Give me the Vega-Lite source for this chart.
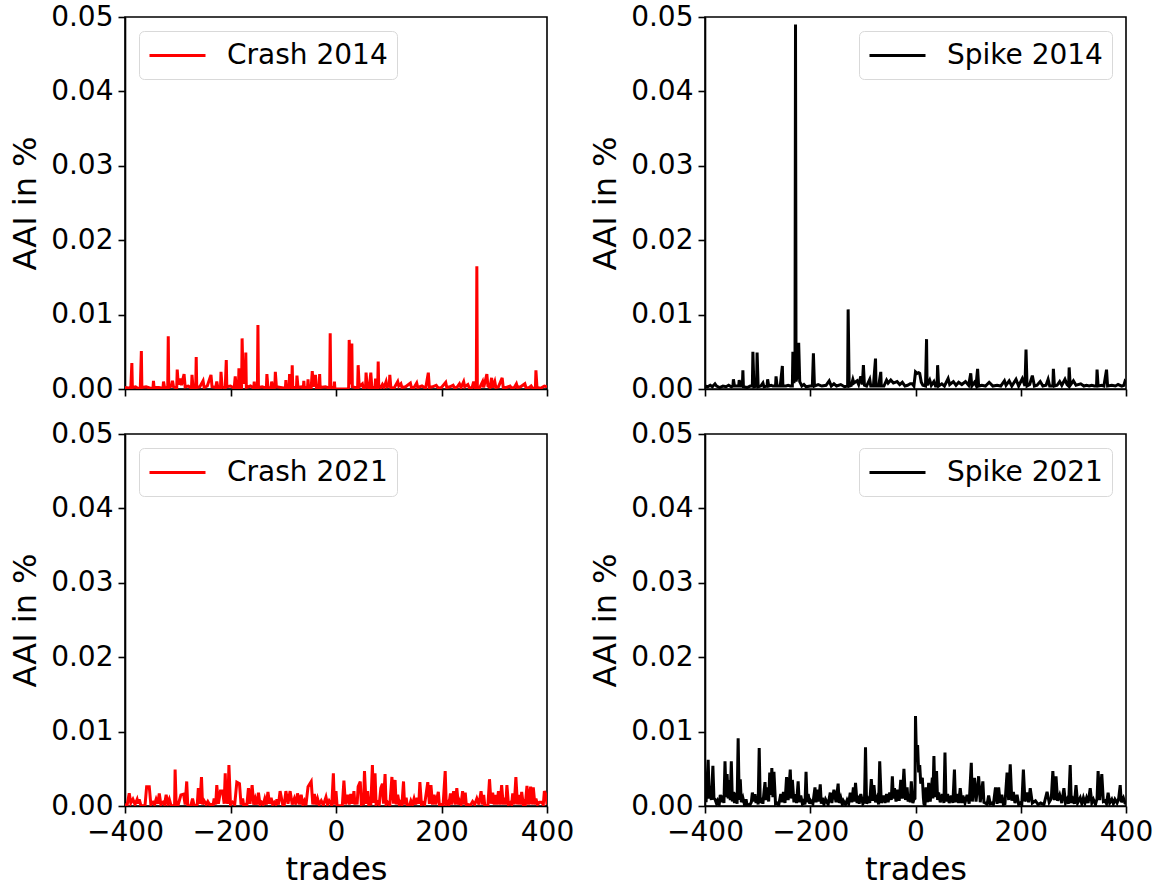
{
  "$schema": "https://vega.github.io/schema/vega-lite/v6.json",
  "background": "white",
  "padding": {"left": 8, "top": 2, "right": 0, "bottom": 0},
  "config": {
    "font": "DejaVu Sans",
    "view": {"stroke": "black", "strokeWidth": 1.6},
    "axis": {
      "grid": false,
      "labelFontSize": 28,
      "titleFontSize": 32,
      "titleFontWeight": "normal",
      "labelColor": "black",
      "titleColor": "black",
      "domainColor": "black",
      "domainWidth": 1.6,
      "tickColor": "black",
      "tickWidth": 1.6,
      "tickSize": 7,
      "labelPadding": 5,
      "titlePadding": 8,
      "labelOverlap": false,
      "labelFlush": false,
      "labelFont": "DejaVu Sans",
      "titleFont": "DejaVu Sans"
    },
    "legend": {
      "title": null,
      "offset": 14,
      "padding": 9,
      "strokeColor": "#d9d9d9",
      "cornerRadius": 5,
      "fillColor": "white",
      "labelFontSize": 28,
      "labelFont": "DejaVu Sans",
      "labelColor": "black",
      "labelLimit": 0,
      "symbolType": "M-1,0L3,0",
      "symbolSize": 784,
      "symbolStrokeWidth": 3,
      "labelOffset": 48
    }
  },
  "datasets": {
    "crash2014": [
      {"t":-400,"v":0.0002},{"t":-389,"v":0.0001},{"t":-387,"v":0.0035},{"t":-386,"v":0.0002},{"t":-380,"v":0.0003},{"t":-376,"v":0.0001},{"t":-371,"v":0.0001},{"t":-369,"v":0.0051},{"t":-368,"v":0.0002},{"t":-360,"v":0.0003},{"t":-352,"v":0.0001},{"t":-347,"v":0.0001},{"t":-346,"v":0.0011},{"t":-345,"v":0.0002},{"t":-336,"v":0.0002},{"t":-328,"v":0.0001},{"t":-327,"v":0.0010},{"t":-325,"v":0.0002},{"t":-319,"v":0.0001},{"t":-318,"v":0.0071},{"t":-317,"v":0.0002},{"t":-312,"v":0.0004},{"t":-310,"v":0.0011},{"t":-308,"v":0.0003},{"t":-302,"v":0.0001},{"t":-301,"v":0.0026},{"t":-299,"v":0.0006},{"t":-295,"v":0.0014},{"t":-293,"v":0.0005},{"t":-288,"v":0.0020},{"t":-286,"v":0.0003},{"t":-280,"v":0.0004},{"t":-274,"v":0.0001},{"t":-273,"v":0.0019},{"t":-271,"v":0.0002},{"t":-266,"v":0.0001},{"t":-265,"v":0.0043},{"t":-264,"v":0.0002},{"t":-258,"v":0.0003},{"t":-252,"v":0.0011},{"t":-250,"v":0.0002},{"t":-244,"v":0.0004},{"t":-237,"v":0.0019},{"t":-235,"v":0.0003},{"t":-228,"v":0.0002},{"t":-226,"v":0.0010},{"t":-224,"v":0.0002},{"t":-219,"v":0.0001},{"t":-218,"v":0.0023},{"t":-216,"v":0.0003},{"t":-210,"v":0.0001},{"t":-208,"v":0.0039},{"t":-207,"v":0.0003},{"t":-200,"v":0.0004},{"t":-193,"v":0.0001},{"t":-191,"v":0.0017},{"t":-189,"v":0.0002},{"t":-185,"v":0.0001},{"t":-184,"v":0.0028},{"t":-183,"v":0.0002},{"t":-179,"v":0.0001},{"t":-178,"v":0.0068},{"t":-176,"v":0.0009},{"t":-172,"v":0.0010},{"t":-171,"v":0.0049},{"t":-170,"v":0.0002},{"t":-162,"v":0.0004},{"t":-156,"v":0.0001},{"t":-155,"v":0.0010},{"t":-154,"v":0.0001},{"t":-149,"v":0.0001},{"t":-148,"v":0.0086},{"t":-147,"v":0.0002},{"t":-140,"v":0.0003},{"t":-132,"v":0.0001},{"t":-131,"v":0.0020},{"t":-129,"v":0.0002},{"t":-123,"v":0.0001},{"t":-122,"v":0.0010},{"t":-120,"v":0.0001},{"t":-116,"v":0.0002},{"t":-115,"v":0.0023},{"t":-113,"v":0.0003},{"t":-105,"v":0.0002},{"t":-96,"v":0.0001},{"t":-95,"v":0.0012},{"t":-94,"v":0.0002},{"t":-89,"v":0.0002},{"t":-88,"v":0.0020},{"t":-86,"v":0.0003},{"t":-84,"v":0.0002},{"t":-83,"v":0.0032},{"t":-82,"v":0.0002},{"t":-75,"v":0.0002},{"t":-74,"v":0.0018},{"t":-72,"v":0.0002},{"t":-66,"v":0.0003},{"t":-62,"v":0.0001},{"t":-61,"v":0.0011},{"t":-60,"v":0.0002},{"t":-54,"v":0.0002},{"t":-53,"v":0.0013},{"t":-52,"v":0.0002},{"t":-47,"v":0.0002},{"t":-45,"v":0.0024},{"t":-43,"v":0.0003},{"t":-39,"v":0.0019},{"t":-37,"v":0.0002},{"t":-32,"v":0.0002},{"t":-31,"v":0.0020},{"t":-30,"v":0.0002},{"t":-20,"v":0.0003},{"t":-12,"v":0.0001},{"t":-11,"v":0.0075},{"t":-10,"v":0.0003},{"t":-4,"v":0.0001},{"t":-3,"v":0.0010},{"t":-2,"v":0.0},{"t":22,"v":0.0},{"t":24,"v":0.0002},{"t":25,"v":0.0066},{"t":28,"v":0.0006},{"t":30,"v":0.0061},{"t":31,"v":0.0003},{"t":36,"v":0.0002},{"t":41,"v":0.0002},{"t":42,"v":0.0032},{"t":44,"v":0.0003},{"t":50,"v":0.0007},{"t":52,"v":0.0001},{"t":56,"v":0.0002},{"t":57,"v":0.0022},{"t":59,"v":0.0003},{"t":63,"v":0.0001},{"t":66,"v":0.0022},{"t":68,"v":0.0002},{"t":74,"v":0.0002},{"t":75,"v":0.0014},{"t":77,"v":0.0002},{"t":79,"v":0.0002},{"t":80,"v":0.0037},{"t":81,"v":0.0004},{"t":85,"v":0.0002},{"t":88,"v":0.0006},{"t":91,"v":0.0002},{"t":95,"v":0.0010},{"t":97,"v":0.0003},{"t":101,"v":0.0004},{"t":102,"v":0.0019},{"t":104,"v":0.0002},{"t":110,"v":0.0001},{"t":117,"v":0.0010},{"t":119,"v":0.0004},{"t":123,"v":0.0007},{"t":125,"v":0.0002},{"t":132,"v":0.0003},{"t":141,"v":0.0008},{"t":143,"v":0.0002},{"t":148,"v":0.0002},{"t":153,"v":0.0008},{"t":155,"v":0.0002},{"t":163,"v":0.0004},{"t":170,"v":0.0001},{"t":175,"v":0.0022},{"t":177,"v":0.0002},{"t":183,"v":0.0003},{"t":190,"v":0.0005},{"t":194,"v":0.0001},{"t":200,"v":0.0002},{"t":208,"v":0.0009},{"t":210,"v":0.0002},{"t":216,"v":0.0003},{"t":222,"v":0.0005},{"t":225,"v":0.0001},{"t":230,"v":0.0003},{"t":234,"v":0.0007},{"t":237,"v":0.0002},{"t":242,"v":0.0010},{"t":244,"v":0.0003},{"t":250,"v":0.0006},{"t":253,"v":0.0001},{"t":258,"v":0.0002},{"t":261,"v":0.0010},{"t":264,"v":0.0001},{"t":266,"v":0.0002},{"t":267,"v":0.0165},{"t":268,"v":0.0002},{"t":272,"v":0.0001},{"t":278,"v":0.0010},{"t":280,"v":0.0002},{"t":286,"v":0.0020},{"t":288,"v":0.0004},{"t":292,"v":0.0002},{"t":295,"v":0.0015},{"t":297,"v":0.0002},{"t":301,"v":0.0010},{"t":303,"v":0.0002},{"t":308,"v":0.0003},{"t":315,"v":0.0015},{"t":317,"v":0.0002},{"t":323,"v":0.0002},{"t":330,"v":0.0004},{"t":333,"v":0.0001},{"t":338,"v":0.0002},{"t":342,"v":0.0007},{"t":344,"v":0.0002},{"t":350,"v":0.0003},{"t":358,"v":0.0007},{"t":360,"v":0.0002},{"t":365,"v":0.0001},{"t":370,"v":0.0004},{"t":373,"v":0.0001},{"t":378,"v":0.0001},{"t":379,"v":0.0025},{"t":381,"v":0.0002},{"t":388,"v":0.0001},{"t":395,"v":0.0004},{"t":400,"v":0.0003}
    ],
    "spike2014": [
      {"t":-400,"v":0.0004},{"t":-395,"v":0.0003},{"t":-390,"v":0.0005},{"t":-386,"v":0.0003},{"t":-381,"v":0.0007},{"t":-378,"v":0.0004},{"t":-372,"v":0.0002},{"t":-366,"v":0.0004},{"t":-360,"v":0.0003},{"t":-355,"v":0.0005},{"t":-350,"v":0.0003},{"t":-347,"v":0.0004},{"t":-346,"v":0.0013},{"t":-344,"v":0.0004},{"t":-340,"v":0.0004},{"t":-336,"v":0.0004},{"t":-335,"v":0.0012},{"t":-333,"v":0.0004},{"t":-329,"v":0.0004},{"t":-328,"v":0.0025},{"t":-327,"v":0.0003},{"t":-320,"v":0.0002},{"t":-314,"v":0.0004},{"t":-310,"v":0.0004},{"t":-309,"v":0.0050},{"t":-307,"v":0.0003},{"t":-302,"v":0.0004},{"t":-301,"v":0.0049},{"t":-299,"v":0.0003},{"t":-294,"v":0.0004},{"t":-290,"v":0.0008},{"t":-288,"v":0.0003},{"t":-282,"v":0.0004},{"t":-281,"v":0.0013},{"t":-279,"v":0.0004},{"t":-274,"v":0.0005},{"t":-271,"v":0.0004},{"t":-266,"v":0.0004},{"t":-265,"v":0.0017},{"t":-263,"v":0.0004},{"t":-257,"v":0.0004},{"t":-253,"v":0.0031},{"t":-252,"v":0.0004},{"t":-246,"v":0.0004},{"t":-242,"v":0.0005},{"t":-238,"v":0.0004},{"t":-234,"v":0.0004},{"t":-233,"v":0.0050},{"t":-231,"v":0.0008},{"t":-229,"v":0.0030},{"t":-228,"v":0.0490},{"t":-227,"v":0.0010},{"t":-224,"v":0.0020},{"t":-222,"v":0.0062},{"t":-220,"v":0.0010},{"t":-216,"v":0.0004},{"t":-212,"v":0.0006},{"t":-208,"v":0.0003},{"t":-200,"v":0.0004},{"t":-196,"v":0.0004},{"t":-194,"v":0.0048},{"t":-192,"v":0.0004},{"t":-185,"v":0.0006},{"t":-178,"v":0.0004},{"t":-170,"v":0.0005},{"t":-164,"v":0.0011},{"t":-160,"v":0.0004},{"t":-155,"v":0.0007},{"t":-150,"v":0.0004},{"t":-142,"v":0.0006},{"t":-135,"v":0.0003},{"t":-129,"v":0.0004},{"t":-128,"v":0.0107},{"t":-126,"v":0.0004},{"t":-122,"v":0.0005},{"t":-119,"v":0.0013},{"t":-117,"v":0.0008},{"t":-111,"v":0.0011},{"t":-108,"v":0.0006},{"t":-104,"v":0.0017},{"t":-101,"v":0.0006},{"t":-99,"v":0.0032},{"t":-97,"v":0.0005},{"t":-93,"v":0.0004},{"t":-87,"v":0.0013},{"t":-85,"v":0.0004},{"t":-80,"v":0.0004},{"t":-76,"v":0.0041},{"t":-75,"v":0.0004},{"t":-70,"v":0.0004},{"t":-66,"v":0.0023},{"t":-65,"v":0.0004},{"t":-60,"v":0.0004},{"t":-55,"v":0.0012},{"t":-52,"v":0.0008},{"t":-47,"v":0.0012},{"t":-42,"v":0.0008},{"t":-35,"v":0.0010},{"t":-30,"v":0.0006},{"t":-25,"v":0.0009},{"t":-20,"v":0.0004},{"t":-15,"v":0.0005},{"t":-10,"v":0.0007},{"t":-6,"v":0.0007},{"t":-3,"v":0.0004},{"t":0,"v":0.0023},{"t":3,"v":0.0021},{"t":6,"v":0.0022},{"t":8,"v":0.0021},{"t":11,"v":0.0009},{"t":14,"v":0.0005},{"t":19,"v":0.0004},{"t":21,"v":0.0067},{"t":22,"v":0.0005},{"t":27,"v":0.0012},{"t":30,"v":0.0005},{"t":35,"v":0.0010},{"t":38,"v":0.0004},{"t":41,"v":0.0004},{"t":42,"v":0.0032},{"t":44,"v":0.0004},{"t":50,"v":0.0007},{"t":55,"v":0.0004},{"t":62,"v":0.0014},{"t":65,"v":0.0006},{"t":72,"v":0.0010},{"t":77,"v":0.0005},{"t":82,"v":0.0009},{"t":88,"v":0.0006},{"t":95,"v":0.0010},{"t":101,"v":0.0005},{"t":105,"v":0.0021},{"t":107,"v":0.0004},{"t":112,"v":0.0009},{"t":115,"v":0.0005},{"t":118,"v":0.0027},{"t":120,"v":0.0004},{"t":126,"v":0.0005},{"t":133,"v":0.0004},{"t":140,"v":0.0009},{"t":147,"v":0.0004},{"t":155,"v":0.0005},{"t":162,"v":0.0004},{"t":169,"v":0.0011},{"t":172,"v":0.0005},{"t":178,"v":0.0011},{"t":183,"v":0.0004},{"t":191,"v":0.0013},{"t":196,"v":0.0004},{"t":203,"v":0.0014},{"t":208,"v":0.0004},{"t":210,"v":0.0053},{"t":212,"v":0.0004},{"t":217,"v":0.0006},{"t":222,"v":0.0018},{"t":226,"v":0.0004},{"t":231,"v":0.0005},{"t":237,"v":0.0010},{"t":242,"v":0.0004},{"t":248,"v":0.0005},{"t":252,"v":0.0013},{"t":255,"v":0.0004},{"t":261,"v":0.0004},{"t":262,"v":0.0027},{"t":264,"v":0.0004},{"t":269,"v":0.0005},{"t":274,"v":0.0010},{"t":278,"v":0.0005},{"t":284,"v":0.0013},{"t":288,"v":0.0006},{"t":291,"v":0.0004},{"t":292,"v":0.0029},{"t":294,"v":0.0005},{"t":300,"v":0.0011},{"t":305,"v":0.0005},{"t":314,"v":0.0007},{"t":320,"v":0.0004},{"t":325,"v":0.0005},{"t":330,"v":0.0004},{"t":335,"v":0.0005},{"t":340,"v":0.0004},{"t":344,"v":0.0004},{"t":345,"v":0.0026},{"t":347,"v":0.0004},{"t":354,"v":0.0005},{"t":358,"v":0.0004},{"t":363,"v":0.0026},{"t":365,"v":0.0004},{"t":373,"v":0.0005},{"t":380,"v":0.0004},{"t":385,"v":0.0006},{"t":392,"v":0.0004},{"t":396,"v":0.0005},{"t":398,"v":0.0010},{"t":400,"v":0.0008}
    ],
    "crash2021": [
      {"t":-400,"v":0.0002},{"t":-396,"v":0.0001},{"t":-392,"v":0.0017},{"t":-389,"v":0.0004},{"t":-385,"v":0.0009},{"t":-381,"v":0.0002},{"t":-377,"v":0.0009},{"t":-375,"v":0.0003},{"t":-373,"v":0.0009},{"t":-370,"v":0.0001},{"t":-366,"v":0.0},{"t":-362,"v":0.0001},{"t":-359,"v":0.0026},{"t":-354,"v":0.0026},{"t":-351,"v":0.0002},{"t":-347,"v":0.0005},{"t":-344,"v":0.0002},{"t":-341,"v":0.0009},{"t":-338,"v":0.0003},{"t":-335,"v":0.0017},{"t":-332,"v":0.0002},{"t":-328,"v":0.0005},{"t":-325,"v":0.0002},{"t":-322,"v":0.0015},{"t":-319,"v":0.0003},{"t":-316,"v":0.0009},{"t":-313,"v":0.0001},{"t":-311,"v":0.0},{"t":-306,"v":0.0001},{"t":-305,"v":0.0049},{"t":-303,"v":0.0002},{"t":-299,"v":0.0002},{"t":-294,"v":0.0015},{"t":-289,"v":0.0016},{"t":-286,"v":0.0002},{"t":-283,"v":0.0033},{"t":-281,"v":0.0001},{"t":-278,"v":0.0},{"t":-275,"v":0.0001},{"t":-272,"v":0.0010},{"t":-269,"v":0.0001},{"t":-267,"v":0.0},{"t":-263,"v":0.0002},{"t":-261,"v":0.0024},{"t":-258,"v":0.0003},{"t":-255,"v":0.0039},{"t":-253,"v":0.0002},{"t":-250,"v":0.0007},{"t":-246,"v":0.0002},{"t":-243,"v":0.0006},{"t":-239,"v":0.0001},{"t":-237,"v":0.0002},{"t":-233,"v":0.0001},{"t":-231,"v":0.0010},{"t":-228,"v":0.0002},{"t":-226,"v":0.0028},{"t":-223,"v":0.0003},{"t":-219,"v":0.0020},{"t":-215,"v":0.0020},{"t":-212,"v":0.0003},{"t":-210,"v":0.0044},{"t":-208,"v":0.0003},{"t":-207,"v":0.0020},{"t":-205,"v":0.0003},{"t":-203,"v":0.0055},{"t":-200,"v":0.0002},{"t":-196,"v":0.0005},{"t":-192,"v":0.0002},{"t":-188,"v":0.0032},{"t":-183,"v":0.0030},{"t":-180,"v":0.0002},{"t":-177,"v":0.0010},{"t":-175,"v":0.0001},{"t":-172,"v":0.0002},{"t":-169,"v":0.0001},{"t":-166,"v":0.0024},{"t":-163,"v":0.0003},{"t":-159,"v":0.0028},{"t":-156,"v":0.0002},{"t":-153,"v":0.0010},{"t":-150,"v":0.0002},{"t":-147,"v":0.0018},{"t":-144,"v":0.0002},{"t":-141,"v":0.0005},{"t":-138,"v":0.0002},{"t":-135,"v":0.0010},{"t":-132,"v":0.0002},{"t":-129,"v":0.0019},{"t":-126,"v":0.0003},{"t":-123,"v":0.0011},{"t":-120,"v":0.0002},{"t":-117,"v":0.0005},{"t":-114,"v":0.0002},{"t":-112,"v":0.0009},{"t":-109,"v":0.0002},{"t":-106,"v":0.0020},{"t":-101,"v":0.0002},{"t":-98,"v":0.0002},{"t":-95,"v":0.0020},{"t":-91,"v":0.0003},{"t":-87,"v":0.0020},{"t":-83,"v":0.0002},{"t":-79,"v":0.0010},{"t":-76,"v":0.0002},{"t":-73,"v":0.0017},{"t":-69,"v":0.0002},{"t":-66,"v":0.0015},{"t":-63,"v":0.0002},{"t":-60,"v":0.0007},{"t":-57,"v":0.0001},{"t":-53,"v":0.0026},{"t":-47,"v":0.0033},{"t":-44,"v":0.0002},{"t":-41,"v":0.0016},{"t":-38,"v":0.0002},{"t":-35,"v":0.0010},{"t":-32,"v":0.0002},{"t":-28,"v":0.0007},{"t":-24,"v":0.0001},{"t":-19,"v":0.0012},{"t":-16,"v":0.0002},{"t":-13,"v":0.0007},{"t":-8,"v":0.0001},{"t":-5,"v":0.0044},{"t":-3,"v":0.0002},{"t":0,"v":0.0020},{"t":2,"v":0.0001},{"t":6,"v":0.0},{"t":12,"v":0.0001},{"t":15,"v":0.0034},{"t":18,"v":0.0002},{"t":22,"v":0.0015},{"t":25,"v":0.0002},{"t":28,"v":0.0016},{"t":31,"v":0.0003},{"t":34,"v":0.0020},{"t":36,"v":0.0002},{"t":38,"v":0.0010},{"t":40,"v":0.0002},{"t":42,"v":0.0026},{"t":46,"v":0.0033},{"t":48,"v":0.0002},{"t":51,"v":0.0005},{"t":52,"v":0.0001},{"t":54,"v":0.0047},{"t":57,"v":0.0003},{"t":60,"v":0.0020},{"t":62,"v":0.0002},{"t":64,"v":0.0005},{"t":66,"v":0.0001},{"t":69,"v":0.0055},{"t":71,"v":0.0004},{"t":74,"v":0.0044},{"t":76,"v":0.0002},{"t":79,"v":0.0005},{"t":82,"v":0.0002},{"t":85,"v":0.0024},{"t":88,"v":0.0030},{"t":90,"v":0.0003},{"t":93,"v":0.0043},{"t":95,"v":0.0002},{"t":98,"v":0.0005},{"t":102,"v":0.0001},{"t":106,"v":0.0039},{"t":109,"v":0.0003},{"t":112,"v":0.0035},{"t":114,"v":0.0002},{"t":117,"v":0.0015},{"t":120,"v":0.0002},{"t":122,"v":0.0005},{"t":125,"v":0.0002},{"t":128,"v":0.0033},{"t":130,"v":0.0002},{"t":133,"v":0.0011},{"t":135,"v":0.0001},{"t":137,"v":0.0},{"t":140,"v":0.0002},{"t":142,"v":0.0007},{"t":145,"v":0.0002},{"t":148,"v":0.0010},{"t":151,"v":0.0002},{"t":154,"v":0.0011},{"t":157,"v":0.0003},{"t":159,"v":0.0032},{"t":162,"v":0.0002},{"t":164,"v":0.0005},{"t":168,"v":0.0002},{"t":174,"v":0.0032},{"t":177,"v":0.0003},{"t":180,"v":0.0028},{"t":183,"v":0.0002},{"t":186,"v":0.0015},{"t":189,"v":0.0002},{"t":194,"v":0.0019},{"t":196,"v":0.0002},{"t":199,"v":0.0002},{"t":203,"v":0.0001},{"t":207,"v":0.0047},{"t":209,"v":0.0002},{"t":212,"v":0.0005},{"t":214,"v":0.0002},{"t":217,"v":0.0017},{"t":219,"v":0.0002},{"t":223,"v":0.0020},{"t":226,"v":0.0002},{"t":229,"v":0.0024},{"t":232,"v":0.0002},{"t":234,"v":0.0007},{"t":237,"v":0.0002},{"t":240,"v":0.0020},{"t":242,"v":0.0002},{"t":245,"v":0.0018},{"t":247,"v":0.0002},{"t":250,"v":0.0002},{"t":255,"v":0.0001},{"t":259,"v":0.0006},{"t":263,"v":0.0002},{"t":267,"v":0.0010},{"t":271,"v":0.0002},{"t":275,"v":0.0020},{"t":278,"v":0.0002},{"t":280,"v":0.0015},{"t":282,"v":0.0001},{"t":284,"v":0.0},{"t":288,"v":0.0001},{"t":291,"v":0.0036},{"t":294,"v":0.0003},{"t":297,"v":0.0018},{"t":300,"v":0.0002},{"t":303,"v":0.0015},{"t":305,"v":0.0002},{"t":308,"v":0.0020},{"t":311,"v":0.0002},{"t":314,"v":0.0028},{"t":317,"v":0.0002},{"t":319,"v":0.0011},{"t":322,"v":0.0002},{"t":324,"v":0.0028},{"t":327,"v":0.0002},{"t":331,"v":0.0005},{"t":333,"v":0.0002},{"t":335,"v":0.0017},{"t":338,"v":0.0002},{"t":341,"v":0.0039},{"t":344,"v":0.0002},{"t":348,"v":0.0015},{"t":350,"v":0.0002},{"t":352,"v":0.0019},{"t":355,"v":0.0002},{"t":357,"v":0.0005},{"t":359,"v":0.0002},{"t":362,"v":0.0027},{"t":365,"v":0.0002},{"t":369,"v":0.0026},{"t":371,"v":0.0002},{"t":374,"v":0.0025},{"t":377,"v":0.0002},{"t":379,"v":0.0010},{"t":382,"v":0.0002},{"t":386,"v":0.0005},{"t":390,"v":0.0005},{"t":393,"v":0.0002},{"t":395,"v":0.0020},{"t":398,"v":0.0015},{"t":400,"v":0.0002}
    ],
    "spike2021": [
      {"t":-400,"v":0.0028},{"t":-398,"v":0.0005},{"t":-394,"v":0.0062},{"t":-392,"v":0.0010},{"t":-390,"v":0.0027},{"t":-388,"v":0.0008},{"t":-385,"v":0.0054},{"t":-383,"v":0.0010},{"t":-381,"v":0.0009},{"t":-378,"v":0.0003},{"t":-376,"v":0.0007},{"t":-373,"v":0.0002},{"t":-371,"v":0.0015},{"t":-368,"v":0.0005},{"t":-366,"v":0.0014},{"t":-364,"v":0.0004},{"t":-362,"v":0.0060},{"t":-360,"v":0.0012},{"t":-358,"v":0.0043},{"t":-356,"v":0.0010},{"t":-354,"v":0.0035},{"t":-352,"v":0.0008},{"t":-350,"v":0.0060},{"t":-348,"v":0.0006},{"t":-346,"v":0.0019},{"t":-344,"v":0.0004},{"t":-341,"v":0.0018},{"t":-339,"v":0.0003},{"t":-337,"v":0.0091},{"t":-335,"v":0.0008},{"t":-333,"v":0.0036},{"t":-331,"v":0.0005},{"t":-328,"v":0.0011},{"t":-325,"v":0.0002},{"t":-322,"v":0.0009},{"t":-320,"v":0.0001},{"t":-318,"v":0.0002},{"t":-315,"v":0.0001},{"t":-312,"v":0.0005},{"t":-310,"v":0.0018},{"t":-307,"v":0.0006},{"t":-305,"v":0.0016},{"t":-303,"v":0.0004},{"t":-301,"v":0.0011},{"t":-299,"v":0.0002},{"t":-297,"v":0.0078},{"t":-295,"v":0.0004},{"t":-292,"v":0.0011},{"t":-290,"v":0.0003},{"t":-286,"v":0.0032},{"t":-284,"v":0.0008},{"t":-281,"v":0.0025},{"t":-279,"v":0.0006},{"t":-277,"v":0.0045},{"t":-275,"v":0.0015},{"t":-273,"v":0.0051},{"t":-271,"v":0.0012},{"t":-269,"v":0.0046},{"t":-266,"v":0.0003},{"t":-263,"v":0.0004},{"t":-260,"v":0.0001},{"t":-256,"v":0.0016},{"t":-253,"v":0.0005},{"t":-251,"v":0.0019},{"t":-248,"v":0.0004},{"t":-245,"v":0.0039},{"t":-242,"v":0.0008},{"t":-238,"v":0.0049},{"t":-236,"v":0.0010},{"t":-234,"v":0.0035},{"t":-231,"v":0.0005},{"t":-229,"v":0.0016},{"t":-226,"v":0.0004},{"t":-223,"v":0.0033},{"t":-221,"v":0.0005},{"t":-218,"v":0.0014},{"t":-215,"v":0.0003},{"t":-212,"v":0.0007},{"t":-210,"v":0.0002},{"t":-208,"v":0.0046},{"t":-206,"v":0.0005},{"t":-204,"v":0.0016},{"t":-201,"v":0.0003},{"t":-199,"v":0.0007},{"t":-195,"v":0.0003},{"t":-191,"v":0.0025},{"t":-189,"v":0.0005},{"t":-186,"v":0.0022},{"t":-184,"v":0.0006},{"t":-181,"v":0.0029},{"t":-179,"v":0.0003},{"t":-177,"v":0.0011},{"t":-174,"v":0.0002},{"t":-171,"v":0.0009},{"t":-166,"v":0.0002},{"t":-162,"v":0.0018},{"t":-159,"v":0.0004},{"t":-155,"v":0.0022},{"t":-151,"v":0.0005},{"t":-147,"v":0.0030},{"t":-145,"v":0.0004},{"t":-142,"v":0.0011},{"t":-139,"v":0.0002},{"t":-137,"v":0.0007},{"t":-133,"v":0.0002},{"t":-130,"v":0.0008},{"t":-127,"v":0.0003},{"t":-124,"v":0.0018},{"t":-121,"v":0.0005},{"t":-118,"v":0.0025},{"t":-116,"v":0.0006},{"t":-114,"v":0.0031},{"t":-111,"v":0.0004},{"t":-109,"v":0.0014},{"t":-107,"v":0.0003},{"t":-104,"v":0.0016},{"t":-100,"v":0.0003},{"t":-97,"v":0.0006},{"t":-95,"v":0.0079},{"t":-93,"v":0.0003},{"t":-90,"v":0.0009},{"t":-87,"v":0.0004},{"t":-84,"v":0.0036},{"t":-81,"v":0.0007},{"t":-79,"v":0.0028},{"t":-76,"v":0.0005},{"t":-73,"v":0.0011},{"t":-70,"v":0.0002},{"t":-68,"v":0.0060},{"t":-65,"v":0.0004},{"t":-61,"v":0.0014},{"t":-58,"v":0.0004},{"t":-55,"v":0.0016},{"t":-52,"v":0.0005},{"t":-49,"v":0.0018},{"t":-46,"v":0.0008},{"t":-44,"v":0.0040},{"t":-42,"v":0.0010},{"t":-40,"v":0.0024},{"t":-37,"v":0.0006},{"t":-34,"v":0.0022},{"t":-31,"v":0.0007},{"t":-28,"v":0.0035},{"t":-25,"v":0.0010},{"t":-22,"v":0.0050},{"t":-19,"v":0.0008},{"t":-16,"v":0.0025},{"t":-14,"v":0.0006},{"t":-13,"v":0.0014},{"t":-10,"v":0.0005},{"t":-8,"v":0.0033},{"t":-5,"v":0.0004},{"t":-3,"v":0.0009},{"t":-1,"v":0.0010},{"t":0,"v":0.0121},{"t":2,"v":0.0060},{"t":4,"v":0.0082},{"t":6,"v":0.0045},{"t":8,"v":0.0055},{"t":10,"v":0.0030},{"t":13,"v":0.0038},{"t":15,"v":0.0011},{"t":16,"v":0.0003},{"t":18,"v":0.0001},{"t":20,"v":0.0025},{"t":23,"v":0.0005},{"t":25,"v":0.0031},{"t":28,"v":0.0006},{"t":32,"v":0.0038},{"t":33,"v":0.0010},{"t":35,"v":0.0067},{"t":37,"v":0.0012},{"t":40,"v":0.0047},{"t":42,"v":0.0008},{"t":44,"v":0.0018},{"t":47,"v":0.0005},{"t":51,"v":0.0016},{"t":54,"v":0.0004},{"t":56,"v":0.0072},{"t":58,"v":0.0006},{"t":61,"v":0.0016},{"t":64,"v":0.0004},{"t":68,"v":0.0014},{"t":71,"v":0.0004},{"t":74,"v":0.0049},{"t":76,"v":0.0005},{"t":79,"v":0.0016},{"t":82,"v":0.0004},{"t":85,"v":0.0024},{"t":88,"v":0.0004},{"t":90,"v":0.0014},{"t":94,"v":0.0004},{"t":98,"v":0.0015},{"t":102,"v":0.0003},{"t":106,"v":0.0058},{"t":108,"v":0.0006},{"t":112,"v":0.0038},{"t":115,"v":0.0006},{"t":120,"v":0.0040},{"t":123,"v":0.0005},{"t":128,"v":0.0033},{"t":130,"v":0.0005},{"t":133,"v":0.0004},{"t":136,"v":0.0002},{"t":139,"v":0.0014},{"t":142,"v":0.0003},{"t":145,"v":0.0004},{"t":148,"v":0.0002},{"t":152,"v":0.0025},{"t":155,"v":0.0003},{"t":158,"v":0.0025},{"t":161,"v":0.0004},{"t":164,"v":0.0015},{"t":167,"v":0.0002},{"t":170,"v":0.0003},{"t":174,"v":0.0045},{"t":177,"v":0.0008},{"t":180,"v":0.0056},{"t":183,"v":0.0007},{"t":186,"v":0.0019},{"t":189,"v":0.0004},{"t":193,"v":0.0015},{"t":196,"v":0.0002},{"t":199,"v":0.0004},{"t":202,"v":0.0002},{"t":205,"v":0.0049},{"t":208,"v":0.0006},{"t":212,"v":0.0018},{"t":215,"v":0.0005},{"t":218,"v":0.0024},{"t":222,"v":0.0004},{"t":228,"v":0.0007},{"t":233,"v":0.0002},{"t":238,"v":0.0004},{"t":244,"v":0.0002},{"t":250,"v":0.0019},{"t":254,"v":0.0005},{"t":258,"v":0.0010},{"t":261,"v":0.0047},{"t":264,"v":0.0008},{"t":267,"v":0.0040},{"t":270,"v":0.0007},{"t":274,"v":0.0015},{"t":278,"v":0.0004},{"t":282,"v":0.0024},{"t":285,"v":0.0004},{"t":288,"v":0.0009},{"t":291,"v":0.0003},{"t":294,"v":0.0055},{"t":296,"v":0.0004},{"t":299,"v":0.0009},{"t":302,"v":0.0003},{"t":305,"v":0.0028},{"t":308,"v":0.0004},{"t":313,"v":0.0011},{"t":316,"v":0.0003},{"t":319,"v":0.0011},{"t":322,"v":0.0004},{"t":325,"v":0.0011},{"t":328,"v":0.0004},{"t":332,"v":0.0024},{"t":335,"v":0.0004},{"t":338,"v":0.0009},{"t":342,"v":0.0002},{"t":345,"v":0.0010},{"t":347,"v":0.0047},{"t":350,"v":0.0008},{"t":354,"v":0.0043},{"t":357,"v":0.0006},{"t":360,"v":0.0007},{"t":363,"v":0.0003},{"t":366,"v":0.0018},{"t":369,"v":0.0004},{"t":373,"v":0.0009},{"t":376,"v":0.0003},{"t":379,"v":0.0009},{"t":383,"v":0.0004},{"t":386,"v":0.0010},{"t":389,"v":0.0028},{"t":391,"v":0.0005},{"t":395,"v":0.0011},{"t":398,"v":0.0004},{"t":400,"v":0.0003}
    ]
  },
  "columns": 2,
  "spacing": {"row": 45, "column": 158},
  "bounds": "flush",
  "resolve": {"scale": {"color": "independent"}},
  "concat": [
    {
      "width": 422, "height": 372,
      "data": {"name": "crash2014"},
      "mark": {"type": "line", "strokeWidth": 3, "clip": true},
      "encoding": {
        "x": {"field": "t", "type": "quantitative", "scale": {"domain": [-400, 400], "nice": false, "zero": false}, "axis": {"values": [-400, -200, 0, 200, 400], "labels": false, "title": null}},
        "y": {"field": "v", "type": "quantitative", "scale": {"domain": [0, 0.05], "nice": false}, "axis": {"values": [0, 0.01, 0.02, 0.03, 0.04, 0.05], "format": ".2f", "title": "AAI in %"}},
        "color": {"datum": "Crash 2014", "type": "nominal", "scale": {"domain": ["Crash 2014"], "range": ["#ff0000"]}, "legend": {"orient": "top-left"}}
      }
    },
    {
      "width": 421, "height": 372,
      "data": {"name": "spike2014"},
      "mark": {"type": "line", "strokeWidth": 3, "clip": true},
      "encoding": {
        "x": {"field": "t", "type": "quantitative", "scale": {"domain": [-400, 400], "nice": false, "zero": false}, "axis": {"values": [-400, -200, 0, 200, 400], "labels": false, "title": null}},
        "y": {"field": "v", "type": "quantitative", "scale": {"domain": [0, 0.05], "nice": false}, "axis": {"values": [0, 0.01, 0.02, 0.03, 0.04, 0.05], "format": ".2f", "title": "AAI in %"}},
        "color": {"datum": "Spike 2014", "type": "nominal", "scale": {"domain": ["Spike 2014"], "range": ["#000000"]}, "legend": {"orient": "top-right"}}
      }
    },
    {
      "width": 422, "height": 372,
      "data": {"name": "crash2021"},
      "mark": {"type": "line", "strokeWidth": 3, "clip": true},
      "encoding": {
        "x": {"field": "t", "type": "quantitative", "scale": {"domain": [-400, 400], "nice": false, "zero": false}, "axis": {"values": [-400, -200, 0, 200, 400], "title": "trades"}},
        "y": {"field": "v", "type": "quantitative", "scale": {"domain": [0, 0.05], "nice": false}, "axis": {"values": [0, 0.01, 0.02, 0.03, 0.04, 0.05], "format": ".2f", "title": "AAI in %"}},
        "color": {"datum": "Crash 2021", "type": "nominal", "scale": {"domain": ["Crash 2021"], "range": ["#ff0000"]}, "legend": {"orient": "top-left"}}
      }
    },
    {
      "width": 421, "height": 372,
      "data": {"name": "spike2021"},
      "mark": {"type": "line", "strokeWidth": 3, "clip": true},
      "encoding": {
        "x": {"field": "t", "type": "quantitative", "scale": {"domain": [-400, 400], "nice": false, "zero": false}, "axis": {"values": [-400, -200, 0, 200, 400], "title": "trades"}},
        "y": {"field": "v", "type": "quantitative", "scale": {"domain": [0, 0.05], "nice": false}, "axis": {"values": [0, 0.01, 0.02, 0.03, 0.04, 0.05], "format": ".2f", "title": "AAI in %"}},
        "color": {"datum": "Spike 2021", "type": "nominal", "scale": {"domain": ["Spike 2021"], "range": ["#000000"]}, "legend": {"orient": "top-right"}}
      }
    }
  ]
}
